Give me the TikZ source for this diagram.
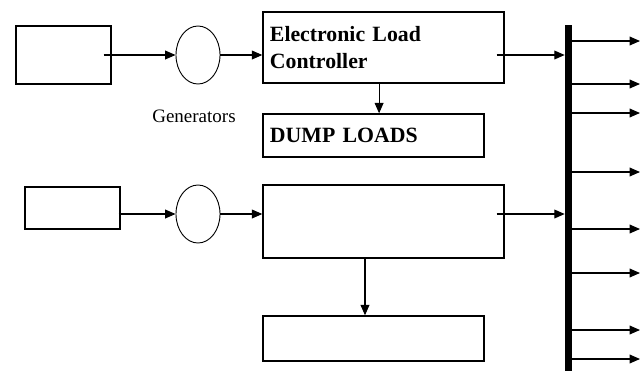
\documentclass[tikz,border=0pt]{standalone}
\usepackage{fontspec}
\setmainfont{Liberation Serif}
\usepackage{tikz}
\usetikzlibrary{arrows.meta,positioning,shapes.geometric,calc}

\begin{document}
\begin{tikzpicture}[x=0.025cm, y=-0.025cm,
    block/.style={draw, line width=0.95pt, inner sep=0pt},
    srcbox/.style={block, minimum width=2.375cm},
    ctrlbox/.style={block, minimum width=6.025cm, text width=5.675cm, align=left, inner xsep=0.175cm,
        font=\fontsize{15.5}{18.6}\selectfont\bfseries},
    loadbox/.style={block, minimum width=5.525cm, text width=5.175cm, align=left, inner xsep=0.175cm,
        font=\fontsize{15.5}{18.6}\selectfont\bfseries},
    gen/.style={ellipse, draw, line width=0.65pt, minimum width=1.1cm, minimum height=1.45cm, inner sep=0pt},
    arrow/.style={-{Triangle[length=0.26cm, width=0.22cm]}, line width=0.75pt}
]
\useasboundingbox (0,0) rectangle (641,371);

% upper unit
\node[srcbox, minimum height=1.45cm] (src1) at (63.5,55) {};
\node[gen] (gen1) at (198,55) {};
\node[ctrlbox, minimum height=1.775cm] (elc) at (383.5,47.5) {Electronic Load\\Controller};
\node[loadbox, minimum height=1.075cm] (dump) at (373.5,135.5) {DUMP LOADS};
\node[below=0.5cm of gen1, xshift=-0.1cm, font=\fontsize{13.5}{16}\selectfont] (genlabel) {Generators};

% lower unit
\node[srcbox, minimum height=1.05cm] (src2) at (72.5,208) {};
\node[gen] (gen2) at (198,214) {};
\node[ctrlbox, minimum height=1.825cm] (ctrl2) at (383.5,221.5) {};
\node[loadbox, minimum height=1.125cm] (load2) at (373.5,338.5) {};

% bus bar
\node[fill=black, inner sep=0pt, minimum width=0.175cm, minimum height=8.65cm] (bus) at (568.5,198) {};

\draw[arrow] ($(src1.east |- gen1.west)+(-0.2cm,0)$) -- (gen1.west);
\draw[arrow] (gen1.east) -- (gen1.east -| elc.west);
\draw[arrow] ($(elc.south)+(-0.11cm,0)$) coordinate (d1) -- (d1 |- dump.north);
\draw[arrow] ($(elc.east |- gen1.east)+(-0.2cm,0)$) -- (bus.west |- gen1.east);

\draw[arrow] ($(src2.east |- gen2.west)+(-0.05cm,0)$) -- (gen2.west);
\draw[arrow] (gen2.east) -- (gen2.east -| ctrl2.west);
\draw[arrow] ($(ctrl2.south)+(-0.4625cm,0)$) coordinate (d2) -- (d2 |- load2.north);
\draw[arrow] ($(ctrl2.east |- gen2.east)+(-0.2cm,0)$) -- (bus.west |- gen2.east);

% feeders
\foreach \y [count=\i] in {41,84,113,172,229,273,330,359} {
  \coordinate (o\i) at (640,\y);
  \draw[arrow] (bus.east |- o\i) -- (o\i);
}
\end{tikzpicture}
\end{document}
